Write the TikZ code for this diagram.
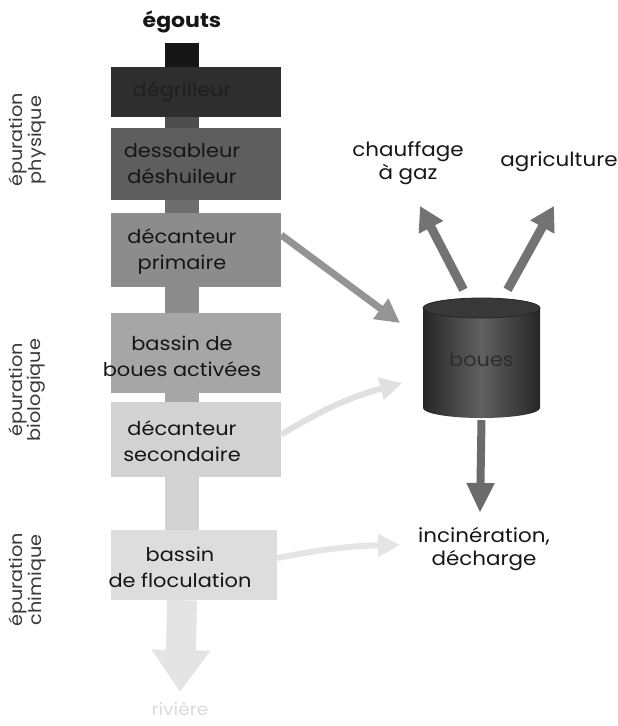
\documentclass[tikz,border=0pt]{standalone}
\usepackage{fontspec}
\setmainfont{Poppins}[FakeStretch=1.1]
\usetikzlibrary{arrows.meta,shapes.geometric}
\definecolor{cA}{HTML}{2E2E2E}
\definecolor{cB}{HTML}{5E5E5E}
\definecolor{cC}{HTML}{8C8C8C}
\definecolor{cD}{HTML}{A6A6A6}
\definecolor{cE}{HTML}{D2D2D2}
\definecolor{cF}{HTML}{DDDDDD}
\definecolor{ink}{HTML}{161616}
\begin{document}
\begin{tikzpicture}[x=1pt,y=-1pt,
  boxnode/.style={rectangle, inner sep=0pt, minimum width=170pt},
  boxtext/.style={align=center, inner sep=0pt, text=ink, font=\fontsize{19}{26}\selectfont},
  sidetext/.style={align=center, rotate=90, inner sep=0pt, text=ink!85, font=\fontsize{17.5}{16}\selectfont},
  outtext/.style={align=center, inner sep=0pt, text=ink, font=\fontsize{19.5}{23}\selectfont},
  trunk/.style={line width=34pt},
  fatarrow/.style={line width=9pt, -{Triangle[width=26pt,length=24pt]}},
  faintarrow/.style={line width=6pt, -{Triangle[width=22pt,length=22pt]}}
]
\useasboundingbox (0,0) rectangle (618,726);
\fill[white] (0,0) rectangle (618,726);

% title
\node[font=\bfseries\fontsize{20}{22}\selectfont, text=ink] (egouts) at (182,22) {égouts};

% boxes
\node[boxnode, fill=cA, minimum height=50pt] (b1) at (196,92) {};
\node[boxnode, fill=cB, minimum height=72pt] (b2) at (196,164) {};
\node[boxnode, fill=cC, minimum height=74pt] (b3) at (196,250) {};
\node[boxnode, fill=cD, minimum height=80pt] (b4) at (196,353) {};
\node[boxnode, fill=cE, minimum height=75pt] (b5) at (196,439.5) {};
\node[boxnode, fill=cF, minimum height=70pt, minimum width=166pt] (b6) at (194,565) {};

% trunk segments
\draw[trunk, draw=ink] (egouts.south |- 0,43) -- (egouts.south |- b1.north);
\draw[trunk, draw=cA!85!white] (egouts.south |- b1.south) -- (egouts.south |- b2.north);
\draw[trunk, draw=cB!90!white] (egouts.south |- b2.south) -- (egouts.south |- b3.north);
\draw[trunk, draw=cC] (egouts.south |- b3.south) -- (egouts.south |- b4.north);
\draw[trunk, draw=cD] (egouts.south |- b4.south) -- (egouts.south |- b5.north);
\draw[trunk, draw=cE] (egouts.south |- b5.south) -- (egouts.south |- b6.north);
\coordinate (riv) at (180,692);
\draw[line width=30pt, draw=cF!80!white, -{Triangle[width=56pt,length=42pt]}] (egouts.south |- b6.south) -- (riv);

% box texts
\node[boxtext, text=black!88] (t1) at (182,92) {dégrilleur};
\node[boxtext] (t2) at (182,164) {dessableur\\déshuileur};
\node[boxtext] (t3) at (182,252) {décanteur\\primaire};
\node[boxtext] (t4) at (182,356) {bassin de\\boues activées};
\node[boxtext] (t5) at (182,441) {décanteur\\secondaire};
\node[boxtext] (t6) at (180,567) {bassin\\de floculation};
\node[boxtext, text=black!14, font=\fontsize{17}{20}\selectfont] (t7) at (180,709) {rivière};

% side labels
\node[sidetext] (s1) at (27,140) {épuration\\physique};
\node[sidetext] (s2) at (27,390) {épuration\\biologique};
\node[sidetext] (s3) at (27,580) {épuration\\chimique};

% sludge tank
\node[inner sep=0pt, minimum width=117pt, minimum height=120pt] (boues) at (481.5,360) {};

% arrows out of the tank (drawn first so the tank covers their base)
\coordinate (gz) at (420,206);
\coordinate (ag) at (554,206);
\coordinate (inc) at (480,513);
\draw[fatarrow, draw=black!55, fill=black!55] ([xshift=-18pt,yshift=10pt]boues.north) -- (gz);
\draw[fatarrow, draw=black!55, fill=black!55] ([xshift=26pt,yshift=10pt]boues.north) -- (ag);
\draw[line width=8pt, draw=black!58, -{Triangle[width=26pt,length=30pt]}] (boues.south) -- (inc);

% tank body
\shade[left color=black!85, right color=black!85, middle color=black!62]
  (423,308) -- (423,408) arc (180:0:58.5 and 10) -- (540,308) -- cycle;
\fill[black!78] (481.5,308) ellipse (58.5 and 10);
\draw[black!85, line width=0.8pt] (481.5,308) ellipse (58.5 and 10);
\node[text=black!82, font=\fontsize{19}{22}\selectfont] at (boues) {boues};

% arrows into the tank
\coordinate (in1) at (400,323);
\coordinate (in2) at (402,383);
\coordinate (in3) at (400,545);
\draw[line width=7pt, draw=black!42, -{Triangle[width=24pt,length=24pt]}] ([yshift=15pt]b3.east) -- (in1);
\draw[faintarrow, draw=black!12] ([yshift=5pt]b5.east) to[bend left=8] (in2);
\draw[faintarrow, draw=black!10] ([yshift=7pt]b6.east) to[bend left=5] (in3);

% output labels
\node[outtext] (chauf) at (408,163) {chauffage\\à gaz};
\node[outtext] (agri) at (559,162) {agriculture};
\node[outtext] (incin) at (484,549) {incinération,\\décharge};
\end{tikzpicture}
\end{document}
